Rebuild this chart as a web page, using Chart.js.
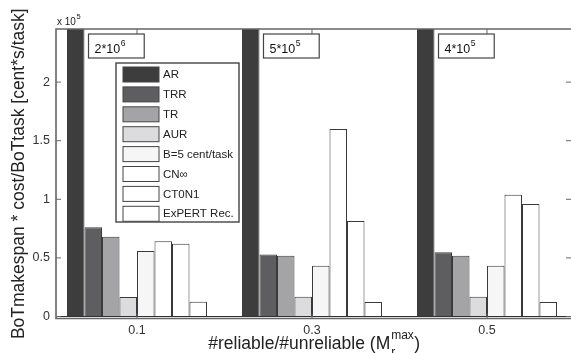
<!DOCTYPE html>
<html>
<head>
<meta charset="utf-8">
<script src="https://cdn.jsdelivr.net/npm/chart.js@4.4.1/dist/chart.umd.min.js"></script>
<style>
  html, body { margin: 0; background: #fff; }
  #wrap { width: 571px; height: 353px; }
</style>
</head>
<body>
<div id="wrap"><canvas id="chart"></canvas></div>
<script>
// values in units of 10^5 cent*s/task
const ratios   = [0.1, 0.3, 0.5];
const labels   = ['AR', 'TRR', 'TR', 'AUR', 'B=5 cent/task', 'CN\u221e', 'CT0N1', 'ExPERT Rec.'];
const arVals   = [20, 5, 4];
const trrVals  = [0.761, 0.530, 0.548];
const trVals   = [0.681, 0.519, 0.519];
const aurVals  = [0.166, 0.169, 0.169];
const b5Vals   = [0.559, 0.433, 0.433];
const cnVals   = [0.642, 1.600, 1.039];
const ctVals   = [0.621, 0.815, 0.960];
const expVals  = [0.126, 0.124, 0.124];
const yTicks   = [0, 0.5, 1, 1.5, 2];

const fills = ['#3d3d3d', '#5e5e60', '#a4a4a7', '#dcdcde', '#f6f6f6', '#ffffff', '#ffffff', '#ffffff'];
const FONT = '"Liberation Sans", Arial, sans-serif';
const AXIS = '#666';

const allVals = [arVals, trrVals, trVals, aurVals, b5Vals, cnVals, ctVals, expVals];

const datasets = allVals.map((vals, k) => ({
  label: labels[k],
  data: ratios.map((x, i) => ({ x, y: vals[i] })),
  backgroundColor: fills[k],
  borderColor: k === 0 ? '#3d3d3d' : '#3a3a3a',
  borderWidth: 1,
  categoryPercentage: 0.8,
  barPercentage: 1.0,
}));

// "2*10^6" style text from a value in 10^5 units
function sciParts(v) {
  const full = v * 1e5;
  const e = Math.floor(Math.log10(full) + 1e-9);
  const m = Math.round(full / Math.pow(10, e));
  return [m + '*10', String(e)];
}

function textSup(ctx, x, y, base, sup, f1, f2, dy) {
  ctx.font = f1 + 'px ' + FONT;
  ctx.fillText(base, x, y);
  const w = ctx.measureText(base).width;
  ctx.font = f2 + 'px ' + FONT;
  ctx.fillText(sup, x + w + 0.5, y - dy);
  return w + 0.5 + ctx.measureText(sup).width;
}

const decor = {
  id: 'decor',
  afterDatasetsDraw(chart) {
    const { ctx, chartArea: a, scales: { x, y } } = chart;
    ctx.save();

    // zero baseline
    const y0 = y.getPixelForValue(0);
    ctx.strokeStyle = '#333';
    ctx.lineWidth = 1.2;
    ctx.beginPath(); ctx.moveTo(a.left, y0); ctx.lineTo(a.right, y0); ctx.stroke();

    // frame (right edge falls outside the picture)
    ctx.strokeStyle = AXIS;
    ctx.lineWidth = 1.6;
    ctx.beginPath();
    ctx.moveTo(a.right, a.top); ctx.lineTo(a.left, a.top);
    ctx.lineTo(a.left, a.bottom); ctx.lineTo(a.right, a.bottom);
    ctx.stroke();

    // inward ticks on all sides
    ctx.lineWidth = 1;
    ctx.beginPath();
    ratios.forEach(v => {
      const px = x.getPixelForValue(v);
      ctx.moveTo(px, a.top); ctx.lineTo(px, a.top + 5);
      ctx.moveTo(px, a.bottom); ctx.lineTo(px, a.bottom - 5);
    });
    yTicks.forEach(v => {
      const py = y.getPixelForValue(v);
      ctx.moveTo(a.left, py); ctx.lineTo(a.left + 5, py);
      ctx.moveTo(a.right, py); ctx.lineTo(a.right - 5, py);
    });
    ctx.stroke();

    // value boxes for the clipped AR bars
    const arMeta = chart.getDatasetMeta(0);
    ctx.textBaseline = 'alphabetic';
    arMeta.data.forEach((bar, i) => {
      const [base, sup] = sciParts(arVals[i]);
      const bx = bar.x + bar.width / 2 + 4;
      const by = a.top + 5;
      ctx.font = '12.5px ' + FONT;
      const bw = ctx.measureText(base).width + 30;
      ctx.fillStyle = '#fff';
      ctx.fillRect(bx, by, bw, 24);
      ctx.strokeStyle = '#444';
      ctx.lineWidth = 1.2;
      ctx.strokeRect(bx, by, bw, 24);
      ctx.fillStyle = '#111';
      textSup(ctx, bx + 6, by + 19, base, sup, 12.5, 8.5, 7);
    });

    // legend
    const lx = a.left + 60, ly = a.top + 34, lw = 123, lh = 159, step = 19.9;
    ctx.fillStyle = '#fff';
    ctx.fillRect(lx, ly, lw, lh);
    ctx.strokeStyle = '#444';
    ctx.lineWidth = 1.4;
    ctx.strokeRect(lx, ly, lw, lh);
    chart.data.datasets.forEach((ds, k) => {
      const sy = ly + 4 + k * step;
      ctx.fillStyle = ds.backgroundColor;
      ctx.fillRect(lx + 7, sy, 36, 15);
      ctx.strokeStyle = '#444';
      ctx.lineWidth = 1;
      ctx.strokeRect(lx + 7, sy, 36, 15);
      ctx.fillStyle = '#222';
      ctx.font = '11.5px ' + FONT;
      ctx.textBaseline = 'middle';
      ctx.fillText(ds.label, lx + 47, sy + 8);
    });

    // exponent over the y axis
    ctx.textBaseline = 'alphabetic';
    ctx.fillStyle = '#222';
    textSup(ctx, a.left + 1, a.top - 4, 'x 10', '5', 10, 7.5, 6);

    // x axis title with M_r^max
    const main = '#reliable/#unreliable (M';
    ctx.font = '17.5px ' + FONT;
    const w1 = ctx.measureText(main).width;
    ctx.font = '12px ' + FONT;
    const w2 = ctx.measureText('max').width;
    ctx.font = '17.5px ' + FONT;
    const w3 = ctx.measureText(')').width;
    const tx = (a.left + a.right) / 2 - (w1 + w2 + w3) / 2;
    const ty = 349;
    ctx.fillText(main, tx, ty);
    ctx.font = '12px ' + FONT;
    ctx.fillText('max', tx + w1 + 1, ty - 10);
    ctx.fillText('r', tx + w1 + 1, ty + 7);
    ctx.font = '17.5px ' + FONT;
    ctx.fillText(')', tx + w1 + w2 + 1.5, ty);

    ctx.restore();
  }
};

new Chart(document.getElementById('chart'), {
  type: 'bar',
  data: { datasets },
  options: {
    responsive: true,
    maintainAspectRatio: false,
    animation: false,
    layout: { padding: { top: 29, right: 0, left: 0, bottom: 0 } },
    plugins: { legend: { display: false }, tooltip: { enabled: false } },
    scales: {
      x: {
        type: 'linear',
        offset: false,
        min: 0.00743,
        max: 0.596,
        afterBuildTicks: s => { s.ticks = ratios.map(v => ({ value: v })); },
        afterFit: s => { s.height = 34.5; },
        grid: { display: false, drawTicks: false },
        border: { display: false },
        ticks: { color: '#333', font: { family: FONT, size: 12.5 }, padding: 5, maxRotation: 0,
                 callback: v => String(v) },
      },
      y: {
        min: -0.017,
        max: 2.453,
        afterBuildTicks: s => { s.ticks = yTicks.map(v => ({ value: v })); },
        afterFit: s => { s.width = 56; },
        grid: { display: false, drawTicks: false },
        border: { display: false },
        ticks: { color: '#333', font: { family: FONT, size: 12.5 }, padding: 6,
                 callback: v => String(v) },
        title: {
          display: true,
          text: 'BoTmakespan * cost/BoTtask [cent*s/task]',
          color: '#222',
          font: { family: FONT, size: 17.5 },
          padding: { top: 9, bottom: 0 },
        },
      },
    },
  },
  plugins: [decor],
});
</script>
</body>
</html>
